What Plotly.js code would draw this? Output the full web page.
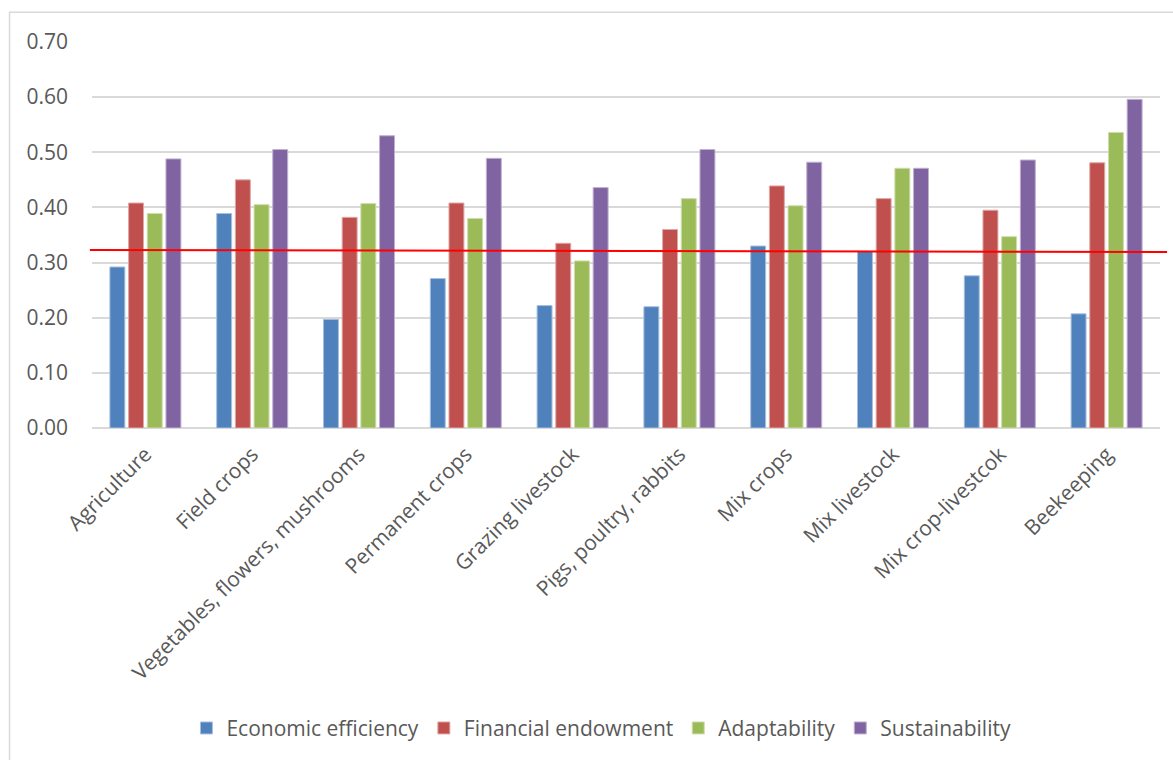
<!DOCTYPE html>
<html>
<head>
<meta charset="utf-8">
<script src="https://cdn.plot.ly/plotly-3.0.1.min.js"></script>
<style>html,body{margin:0;padding:0;background:#fff;}#chart{width:1173px;height:760px;}</style>
</head>
<body>
<div id="chart"></div>
<script>
const categories = ["Agriculture", "Field crops", "Vegetables, flowers, mushrooms", "Permanent crops", "Grazing livestock", "Pigs, poultry, rabbits", "Mix crops", "Mix livestock", "Mix crop-livestcok", "Beekeeping"];
const economicEfficiency = [0.292, 0.389, 0.197, 0.271, 0.222, 0.220, 0.330, 0.320, 0.276, 0.207];
const financialEndowment = [0.408, 0.450, 0.382, 0.408, 0.335, 0.360, 0.439, 0.416, 0.395, 0.481];
const adaptability = [0.389, 0.405, 0.407, 0.380, 0.303, 0.416, 0.403, 0.471, 0.347, 0.536];
const sustainability = [0.488, 0.505, 0.530, 0.489, 0.436, 0.505, 0.482, 0.471, 0.486, 0.596];
const seriesNames = ["Economic efficiency", "Financial endowment", "Adaptability", "Sustainability"];
const referenceLine = [0.323, 0.319];
const yTicks = [0, 0.1, 0.2, 0.3, 0.4, 0.5, 0.6, 0.7];

const colors = ["#4F81BD", "#C0504D", "#9BBB59", "#8064A2"];
const edge = ["#A7C0DE", "#DFA8A6", "#CDDDAC", "#BFB1D0"];
const allSeries = [economicEfficiency, financialEndowment, adaptability, sustainability];

const traces = allSeries.map((vals, i) => ({
  type: "bar",
  name: seriesNames[i],
  x: categories,
  y: vals,
  marker: {color: colors[i], line: {color: edge[i], width: 1}},
  hoverinfo: "x+y+name"
}));

const fam = "Open Sans, Liberation Sans, sans-serif";
const txt = "#595959";

const layout = {
  width: 1173, height: 760,
  margin: {l: 92, r: 13, t: 42, b: 332},
  paper_bgcolor: "#fff", plot_bgcolor: "#fff",
  font: {family: fam, color: txt, size: 21},
  barmode: "group",
  bargap: 0.3,
  bargroupgap: 0.2,
  showlegend: true,
  legend: {
    orientation: "h", x: 0.477, xanchor: "center", y: -0.778, yanchor: "middle",
    font: {family: fam, size: 21, color: txt},
    traceorder: "normal", itemwidth: 30
  },
  xaxis: {
    type: "category",
    tickangle: -45,
    tickfont: {family: fam, size: 21, color: txt},
    showgrid: false, showline: false, ticks: "", zeroline: false,
    ticklabelstandoff: 9,
    fixedrange: true
  },
  yaxis: {
    range: [0, 0.7],
    tickvals: yTicks,
    ticktext: yTicks.map(v => v.toFixed(2)),
    tickfont: {family: fam, size: 21, color: txt},
    showgrid: true, gridcolor: "#D9D9D9", gridwidth: 1.5,
    zeroline: true, zerolinecolor: "#D9D9D9", zerolinewidth: 1.5,
    showline: false, ticks: "", ticklabelstandoff: 23,
    fixedrange: true
  },
  shapes: [
    {type: "rect", xref: "paper", yref: "paper", x0: -0.0772, x1: 1.03, y0: -0.95, y1: 1.0768,
     line: {color: "#D9D9D9", width: 1.5}, fillcolor: "rgba(0,0,0,0)", layer: "below"},
    {type: "line", xref: "paper", yref: "y", x0: -0.002, x1: 1.0066, y0: referenceLine[0], y1: referenceLine[1],
     line: {color: "#FF0000", width: 2}, layer: "above"}
  ]
};

Plotly.newPlot("chart", traces, layout, {displayModeBar: false});
</script>
</body>
</html>
